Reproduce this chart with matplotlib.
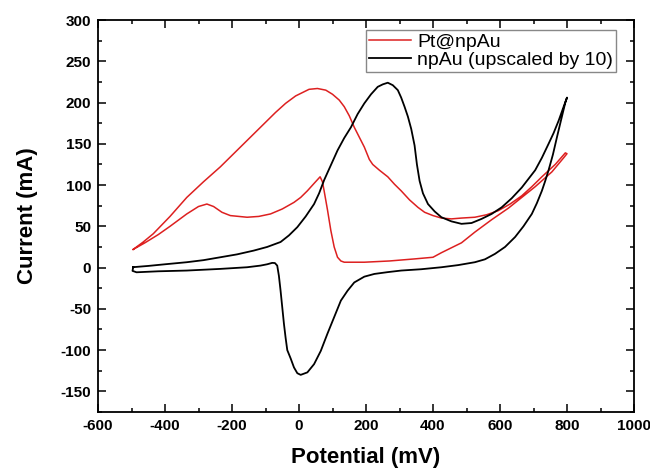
import matplotlib
matplotlib.use("Agg")
import matplotlib.pyplot as plt
from matplotlib.ticker import MultipleLocator

# Pt@npAu cyclic voltammogram (closed loop)
pt_x = [-495, -460, -420, -385, -335, -300, -275, -255, -230, -205, -155, -120, -85, -50, -15, 5, 25, 45, 63,
        70, 75, 85, 95, 105, 115, 125, 135, 195, 270, 345, 400, 425, 455, 485, 525, 575, 625, 665, 705, 755, 790, 800,
        795, 765, 725, 695, 665, 630, 595, 560, 525, 485, 455, 425, 400, 375, 355, 330, 305, 285, 265, 240, 220,
        210, 195, 180, 165, 150, 135, 120, 100, 80, 55, 30, 10, -10, -40, -70, -100, -135, -185, -235, -285,
        -335, -385, -435, -465, -495]
pt_y = [22, 30, 40, 50, 65, 74, 77, 74, 67, 63, 61, 62, 65, 71, 79, 85, 93, 102, 110,
        104, 93, 70, 45, 25, 12.5, 8, 6.5, 6.5, 8, 10.5, 12.5, 18, 24, 30, 43, 58, 72, 85, 98, 116, 133, 138,
        139, 125, 110, 98, 87, 77, 69, 64, 61, 60, 59, 60, 63, 67, 73, 82, 93, 101, 110, 118, 125,
        131, 146, 158, 170, 184, 195, 203, 210, 215, 217, 216, 212, 208, 199, 188, 176, 162, 142, 122, 104,
        85, 62, 41, 31, 22]

# npAu cyclic voltammogram, upscaled by 10 (closed loop)
au_x = [-495, -450, -400, -335, -285, -235, -185, -135, -95, -55, -30, -5, 20, 45, 60, 75, 95, 115, 135, 155,
        175, 195, 215, 235, 250, 265, 280, 295, 305, 315, 325, 335, 345, 352, 360, 370, 385, 405, 425, 455, 485,
        515, 545, 575, 605, 635, 665, 705, 725, 745, 760, 775, 790, 800,
        795, 783, 770, 758, 745, 735, 725, 710, 695, 670, 645, 615, 585, 555, 525, 475, 425, 365, 305, 265, 225,
        195, 165, 145, 125, 105, 85, 65, 45, 25, 5, -5, -15, -25, -35, -40, -45, -50, -55, -60, -65, -72, -80,
        -95, -115, -155, -235, -335, -420, -485, -497, -495]
au_y = [0.5, 2, 4, 6.5, 9, 12.5, 16, 20.6, 25, 31, 39, 49, 62, 77, 90, 106, 124, 142, 157, 170,
        186, 199, 210, 219, 222, 224, 221, 215, 206, 195, 183, 168, 148, 125, 105, 90, 77, 68, 61, 56, 53,
        54, 59, 65, 73, 84, 97, 118, 133, 150, 163, 178, 195, 206,
        200, 180, 158, 137, 118, 105, 93, 78, 65, 50, 37, 25, 16.6, 10, 6.5, 3, 0.4, -2, -3.6, -5.5, -7.7,
        -11, -18, -28, -40, -60, -80, -101, -117, -127, -130, -128, -121, -110, -100, -85, -68, -48, -28, -10, 2.4, 5.5, 5.7,
        4, 2.4, 0.4, -1.6, -3.6, -4.5, -5.7, -4, 0.5]

labels = ["Pt@npAu", "npAu (upscaled by 10)"]
xticks = [-600, -400, -200, 0, 200, 400, 600, 800, 1000]
yticks = [-150, -100, -50, 0, 50, 100, 150, 200, 250, 300]

plt.rcParams['font.family'] = ['Liberation Sans', 'DejaVu Sans']
plt.rcParams['axes.unicode_minus'] = False

fig = plt.figure(figsize=(6.5, 4.72), dpi=100)
ax = fig.add_axes([98 / 650, 60 / 472, 536 / 650, 392 / 472])

ax.plot(pt_x, pt_y, color='#dd2020', lw=1.1, label=labels[0])
ax.plot(au_x, au_y, color='black', lw=1.3, label=labels[1])

ax.set_xlim(-600, 1000)
ax.set_ylim(-175, 300)
ax.set_xticks(xticks)
ax.set_yticks(yticks)
ax.xaxis.set_minor_locator(MultipleLocator(100))
ax.yaxis.set_minor_locator(MultipleLocator(25))
ax.tick_params(which='both', direction='in', top=True, right=True, width=1.1)
ax.tick_params(which='major', length=6, labelsize=11, pad=5)
ax.tick_params(which='minor', length=3)
for lab in ax.get_xticklabels() + ax.get_yticklabels():
    lab.set_fontweight('bold')
for s in ax.spines.values():
    s.set_linewidth(1.3)

ax.set_xlabel("Potential (mV)", fontsize=16, fontweight='bold', labelpad=10)
ax.set_ylabel("Current (mA)", fontsize=16, fontweight='bold', labelpad=16)

leg = ax.legend(loc='upper right', bbox_to_anchor=((616 - 98) / 536, (412 - 30) / 392),
                borderaxespad=0, fontsize=14, handlelength=2.2, handletextpad=0.3,
                borderpad=0.15, labelspacing=0.05, fancybox=False, framealpha=1)
leg.get_frame().set_edgecolor('#888888')
leg.get_frame().set_linewidth(1.0)

fig.savefig("out.png", dpi=100)
